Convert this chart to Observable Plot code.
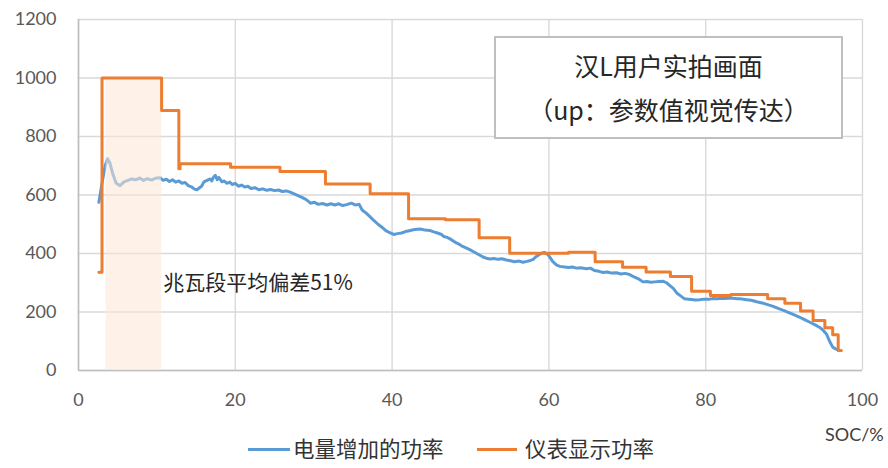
<!DOCTYPE html>
<html>
<head>
<meta charset="utf-8">
<script src="https://cdn.jsdelivr.net/npm/d3@7"></script>
<script src="https://cdn.jsdelivr.net/npm/@observablehq/plot@0.6"></script>
<style>
  html, body { margin: 0; padding: 0; background: #fff; }
  body { width: 888px; height: 468px; overflow: hidden; font-family: Lato, "Noto Sans CJK SC", sans-serif; }
  #wrap { position: relative; width: 888px; height: 468px; }
  #box { position: absolute; left: 494px; top: 36px; width: 345px; height: 99px; border: 2px solid #bfbfbf; background: #fff;
         font-family: "Noto Sans CJK SC", sans-serif; color: #262626; font-size: 25px; text-align: center; }
  #box .l1 { position: absolute; left: 0; right: 0; top: 9px; line-height: 36px; }
  #box .l2 { position: absolute; left: 0; right: 0; top: 53px; line-height: 36px; }
  #legend { position: absolute; left: 0; top: 420px; width: 888px; height: 48px; }
  .sw { position: absolute; height: 3px; top: 28px; }
  .lt { position: absolute; top: 12px; font-family: "Noto Sans CJK SC", sans-serif; font-size: 21.5px; line-height: 32px; color: #333; }
  #soc { position: absolute; left: 825px; top: 3px; font-size: 18px; color: #404040; font-family: Lato, sans-serif; }
</style>
</head>
<body>
<div id="wrap">
  <div id="chart"></div>
  <div id="box"><div class="l1">汉L用户实拍画面</div><div class="l2">（up：参数值视觉传达）</div></div>
  <div id="legend">
    <div class="sw" style="left:248px;width:42px;background:#5b9bd5"></div>
    <div class="lt" style="left:293px">电量增加的功率</div>
    <div class="sw" style="left:477px;width:40px;background:#ed7d31"></div>
    <div class="lt" style="left:525px">仪表显示功率</div>
    <div id="soc">SOC/%</div>
  </div>
</div>
<script>
// Blue series: 电量增加的功率 (SOC %, power)
const blueSoc = [2.6,3.0,3.4,3.7,4.0,4.4,4.8,5.3,5.8,6.3,6.8,7.3,7.8,8.3,8.8,9.3,9.8,10.4,10.8,11.2,11.6,12.0,12.4,12.8,13.2,13.6,14.0,14.4,14.8,15.1,15.4,15.7,16.0,16.4,16.8,17.0,17.2,17.45,17.7,17.9,18.3,18.6,18.9,19.3,19.6,20.0,20.4,20.8,21.2,21.6,22.0,22.5,23.0,23.5,24.0,24.5,25.0,25.5,26.0,26.5,27.0,27.5,28.0,28.5,29.0,29.6,30.1,30.6,31.1,31.7,32.2,32.7,33.2,33.7,34.2,34.8,35.3,35.8,36.2,36.7,37.2,37.7,38.2,38.7,39.2,39.7,40.2,40.7,41.2,41.7,42.2,42.7,43.2,43.6,44.2,44.8,45.3,45.8,46.3,46.6,47.0,47.4,47.8,48.2,48.6,49.0,49.5,49.9,50.4,50.8,51.2,51.6,52.0,52.5,53.0,53.5,54.0,54.6,55.1,55.6,56.2,56.7,57.2,57.5,58.0,58.3,58.7,59.0,59.4,59.9,60.5,61.0,61.4,62.0,62.5,63.0,63.5,64.0,64.8,65.3,65.8,66.4,66.9,67.4,68.0,68.6,69.2,69.7,70.3,71.0,71.5,72.0,72.5,73.0,73.5,74.0,74.6,75.0,75.4,75.9,76.3,76.8,77.3,77.8,78.2,78.7,79.2,79.8,80.5,81.0,81.5,82.0,82.5,83.0,83.5,84.0,84.4,85.2,85.8,86.5,87.2,87.8,88.6,89.4,90.0,90.6,91.3,92.0,92.6,93.3,93.9,94.5,95.0,95.4,95.8,96.2,96.7,97.1];
const bluePow = [575,640,700,724,710,670,640,632,645,650,655,652,658,650,656,651,657,659,650,654,646,652,644,648,640,643,632,628,620,618,624,630,645,650,655,648,660,667,652,660,645,648,640,644,636,640,630,634,627,630,622,625,618,621,616,619,615,617,612,614,610,604,598,592,585,572,575,568,571,566,570,566,570,564,567,572,566,568,548,538,525,512,500,490,478,471,465,468,470,475,478,481,483,484,480,479,474,470,465,458,455,450,443,436,431,424,418,413,406,400,394,388,384,381,383,380,382,378,375,372,374,370,373,375,380,388,395,400,404,396,372,360,356,354,352,354,350,351,348,350,342,339,335,337,333,334,330,332,328,318,312,303,304,302,303,304,305,300,291,280,265,255,245,244,243,241,242,244,244,246,245,247,246,248,247,245,245,242,240,235,231,226,219,211,205,198,190,182,174,165,157,148,137,125,100,80,72,68];

// Orange series: 仪表显示功率 (step line)
const orangeSoc = [2.6,3.0,10.6,12.8,12.95,19.4,25.7,31.5,37.2,42.1,46.8,51.1,55.0,62.5,65.9,69.4,72.4,75.5,78.2,80.6,83.2,87.9,90.1,92.1,93.7,95.2,96.2,96.9,97.3];
const orangePow = [336,1000,889,690,707,695,680,638,604,519,515,454,401,404,372,353,337,321,271,256,260,245,230,203,171,146,122,68,68];

// Highlighted MW band
const bandSoc = [3.5, 10.6];
const bandPow = [0, 1000];
const bandLabel = "兆瓦段平均偏差51%";
const bandLabelPos = [10.8, 297];

const xTicks = [0, 20, 40, 60, 80, 100];
const yTicks = [0, 200, 400, 600, 800, 1000, 1200];

const blue = blueSoc.map((s, i) => ({soc: s, p: bluePow[i]}));
const orange = orangeSoc.map((s, i) => ({soc: s, p: orangePow[i]}));

const chart = Plot.plot({
  width: 888,
  height: 420,
  marginLeft: 78,
  marginRight: 26,
  marginTop: 19,
  marginBottom: 50,
  style: {fontFamily: "Lato, 'Noto Sans CJK SC', sans-serif", background: "#fff"},
  x: {domain: [0, 100], label: null},
  y: {domain: [0, 1200], label: null},
  marks: [
    Plot.gridY(yTicks, {stroke: "#d9d9d9", strokeOpacity: 1, strokeWidth: 1.4}),
    Plot.gridX(xTicks, {stroke: "#d9d9d9", strokeOpacity: 1, strokeWidth: 1.4}),
    Plot.ruleX([0], {stroke: "#bfbfbf", strokeWidth: 1.6}),
    Plot.ruleY([0], {stroke: "#bfbfbf", strokeWidth: 1.6}),
    Plot.axisY(yTicks, {tickSize: 0, tickPadding: 22, fontSize: 18, color: "#595959", label: null, tickFormat: d => String(d)}),
    Plot.axisX(xTicks, {tickSize: 0, tickPadding: 23, fontSize: 18, color: "#595959", label: null, tickFormat: d => String(d)}),
    Plot.line(blue, {x: "soc", y: "p", stroke: "#5b9bd5", strokeWidth: 3}),
    Plot.rect([{x1: bandSoc[0], x2: bandSoc[1], y1: bandPow[0], y2: bandPow[1]}], {x1: "x1", x2: "x2", y1: "y1", y2: "y2", fill: "#fbe5d6", fillOpacity: 0.55}),
    Plot.line(orange, {x: "soc", y: "p", stroke: "#ed7d31", strokeWidth: 3, curve: "step-after"}),
    Plot.text([bandLabel], {x: () => bandLabelPos[0], y: () => bandLabelPos[1], text: d => d, textAnchor: "start", fontSize: 21, fill: "#262626", fontFamily: "'Noto Sans CJK SC', sans-serif"})
  ]
});
document.getElementById("chart").appendChild(chart);
</script>
</body>
</html>
